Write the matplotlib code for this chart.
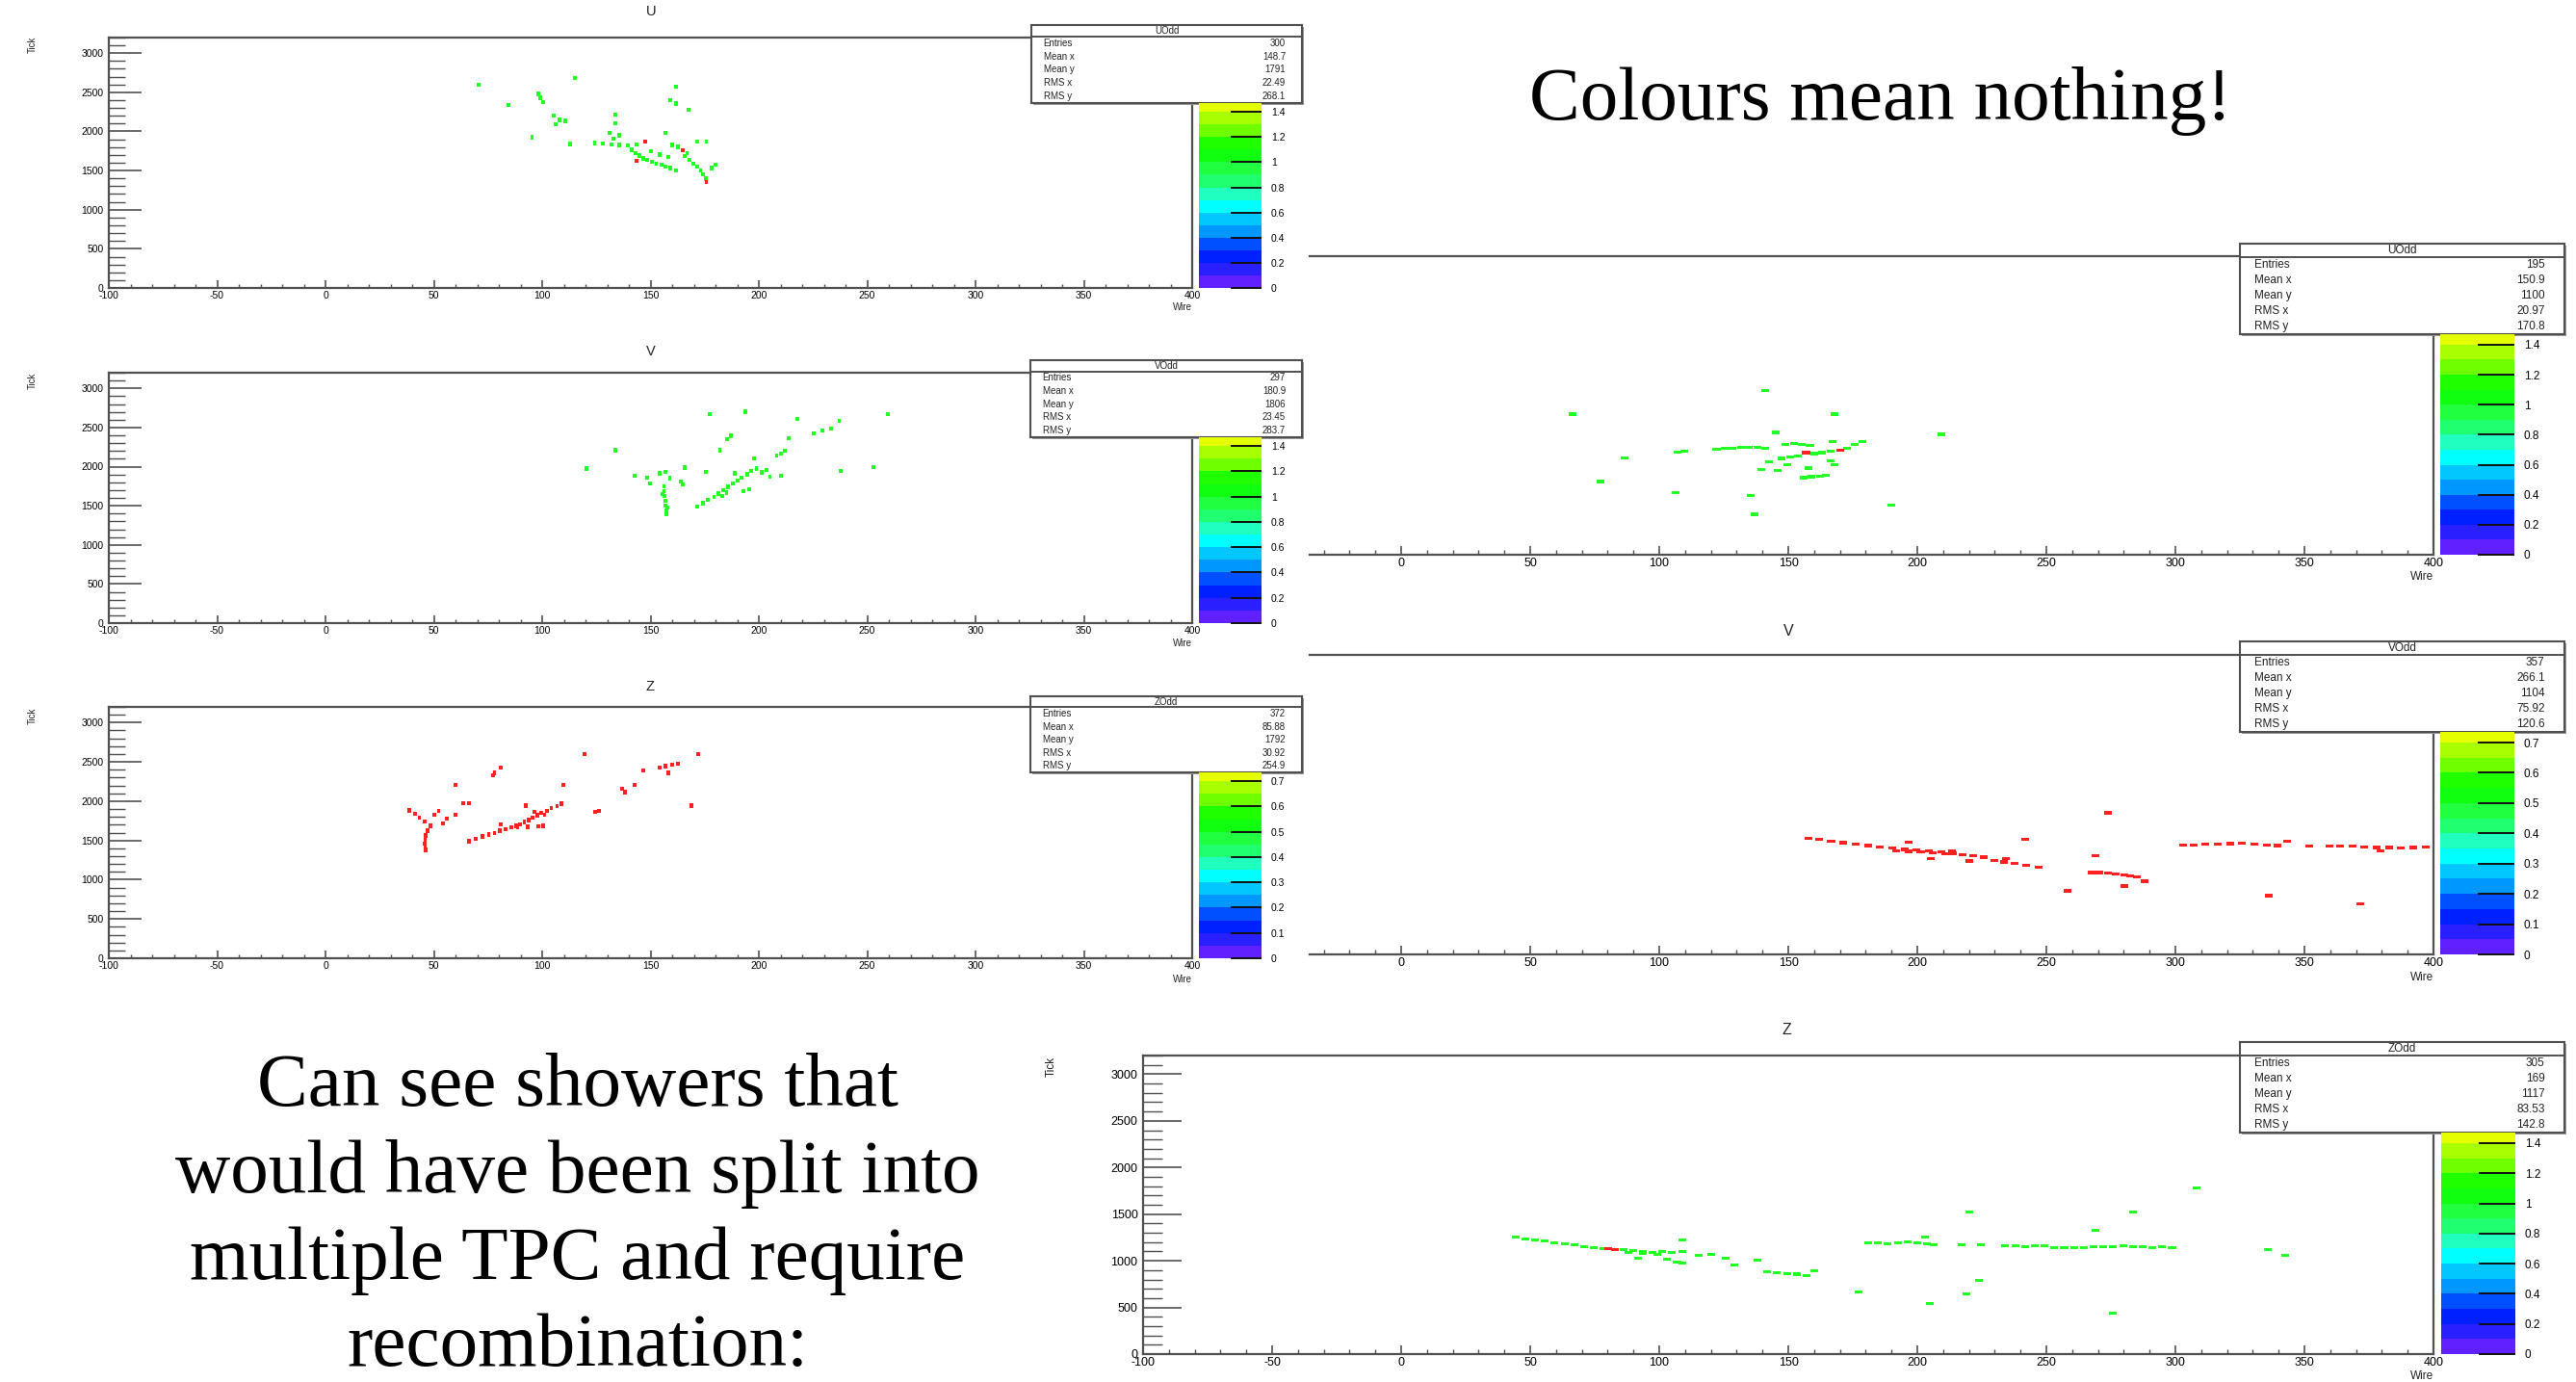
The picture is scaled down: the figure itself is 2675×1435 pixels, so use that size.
import numpy as np
import matplotlib
matplotlib.use("Agg")
import matplotlib.pyplot as plt
from matplotlib.colors import ListedColormap
from matplotlib.ticker import FixedLocator, MultipleLocator

W, H = 2675, 1435
PX = 72.0 / 100.0          # points per pixel at dpi=100
SANS = ['Liberation Sans', 'DejaVu Sans']
SERIF = ['Liberation Serif', 'DejaVu Serif']
FRAME = '#505050'
HIT_GREEN = '#22ff22'
HIT_RED = '#ff2020'

# ROOT-style colour palette bands, bottom to top
PALETTE = ['#6020ff', '#2a20ff', '#0020ff', '#0050ff', '#0098ff', '#00c8ff',
           '#00ffff', '#20ffc0', '#20ff70', '#20ff40', '#10ff10', '#20ff00',
           '#70ff00', '#a8ff00', '#e6ff00']

STAT_LABELS = ['Entries', 'Mean x', 'Mean y', 'RMS x', 'RMS y']

# ---------------- hit data: (wire, tick) ----------------
u_left_green = [(70.6, 2595), (115.0, 2685), (98.4, 2481), (99.1, 2432), (100.3, 2375),
                (84.5, 2338), (161.9, 2571), (159.2, 2399), (161.9, 2358), (167.7, 2276),
                (133.8, 2215), (105.3, 2203), (108.0, 2146), (110.7, 2133), (106.1, 2093),
                (133.8, 2105), (95.3, 1929), (131.1, 1982), (135.7, 1949), (133.0, 1909),
                (156.9, 1982), (113.0, 1839), (124.2, 1855), (128.0, 1843), (131.9, 1831),
                (135.7, 1827), (139.6, 1819), (143.4, 1835), (141.5, 1766), (143.1, 1721),
                (145.0, 1692), (146.5, 1655), (148.5, 1635), (150.8, 1614), (152.7, 1590),
                (155.0, 1573), (156.9, 1553), (159.2, 1533), (161.6, 1500), (160.0, 1827),
                (162.7, 1802), (166.9, 1725), (171.6, 1868), (175.8, 1868), (165.8, 1684),
                (168.1, 1635), (169.6, 1590), (171.6, 1549), (173.1, 1500), (174.3, 1451),
                (175.4, 1398), (178.1, 1533), (180.0, 1573), (158.1, 1672), (154.2, 1704),
                (150.4, 1745)]
u_left_red = [(147.7, 1868), (143.4, 1622), (165.0, 1761), (175.8, 1353)]

v_left_green = [(177.3, 2672), (193.9, 2701), (217.8, 2610), (237.1, 2582), (259.4, 2672),
                (225.5, 2426), (229.4, 2459), (233.2, 2487), (187.0, 2393), (185.4, 2352),
                (213.9, 2365), (212.0, 2201), (208.2, 2139), (210.1, 2168), (197.8, 2106),
                (182.0, 2209), (133.8, 2209), (120.3, 1975), (165.8, 1988), (175.4, 1934),
                (237.8, 1942), (252.8, 1992), (142.7, 1885), (148.5, 1861), (154.2, 1914),
                (156.9, 1934), (158.9, 1852), (163.9, 1811), (165.0, 1770), (149.6, 1783),
                (156.2, 1750), (156.2, 1688), (155.4, 1647), (156.5, 1627), (156.9, 1565),
                (156.9, 1504), (157.7, 1475), (157.3, 1442), (157.3, 1393),
                (171.6, 1492), (174.3, 1533), (176.6, 1574), (179.3, 1615), (181.2, 1656),
                (183.5, 1697), (185.8, 1742), (188.1, 1783), (190.1, 1820), (192.0, 1860),
                (194.7, 1901), (196.6, 1942), (198.9, 1975), (201.2, 1926), (203.5, 1955),
                (192.8, 1688), (195.4, 1709), (185.1, 1668), (183.1, 1627), (205.1, 1873),
                (210.1, 1885), (188.9, 1914)]
v_left_red = []

z_left_green = []
z_left_red = [(119.6, 2597), (172.0, 2597), (81.0, 2425), (78.0, 2363), (77.2, 2330),
              (59.9, 2207), (109.9, 2207), (146.5, 2392), (154.2, 2425), (156.9, 2445),
              (160.0, 2466), (162.7, 2478), (158.1, 2363), (136.9, 2158), (138.1, 2117),
              (142.7, 2207), (63.7, 1973), (66.4, 1973), (92.6, 1944), (168.9, 1944),
              (124.6, 1862), (126.1, 1878), (38.7, 1882), (41.4, 1837), (43.3, 1788),
              (45.6, 1739), (48.3, 1685), (50.2, 1829), (52.2, 1878), (56.0, 1780),
              (59.9, 1829), (54.1, 1718), (47.1, 1623), (46.4, 1562), (46.0, 1508),
              (45.6, 1459), (46.0, 1418), (46.4, 1377), (66.4, 1488), (69.5, 1521),
              (72.6, 1549), (75.3, 1574), (78.0, 1595), (80.3, 1623), (83.0, 1644),
              (85.7, 1665), (88.0, 1685), (89.9, 1706), (91.8, 1734), (93.8, 1759),
              (95.7, 1788), (97.6, 1821), (99.5, 1850), (102.2, 1878), (104.2, 1911),
              (106.9, 1940), (108.8, 1965), (88.7, 1665), (93.4, 1673), (98.4, 1677),
              (100.3, 1685), (81.0, 1706), (96.5, 1862), (101.1, 1829)]

u_right_green = [(141.1, 1758), (66.5, 1507), (167.9, 1507), (145.2, 1311), (209.5, 1290),
                 (86.6, 1036), (77.2, 785), (106.5, 664), (135.5, 637), (137.0, 434),
                 (190.0, 533), (107.1, 1101), (109.6, 1111), (122.2, 1129), (125.4, 1136),
                 (128.5, 1142), (131.7, 1149), (134.8, 1153), (138.0, 1149), (141.1, 1142),
                 (149.0, 1184), (152.1, 1191), (155.3, 1184), (158.4, 1170), (167.3, 1215),
                 (147.4, 1032), (150.6, 1050), (153.7, 1060), (160.0, 1084), (163.2, 1094),
                 (166.3, 1108), (172.6, 1136), (175.8, 1180), (178.9, 1215),
                 (142.7, 998), (149.6, 967), (157.8, 929), (167.9, 963), (139.5, 915),
                 (155.9, 826), (159.1, 836), (162.2, 843), (164.7, 853), (145.8, 905),
                 (166.3, 1008)]
u_right_red = [(156.9, 1094), (170.0, 1118)]

v_right_green = []
v_right_red = [(157.8, 1238), (161.9, 1228), (166.6, 1211), (171.3, 1194), (176.0, 1176),
               (180.8, 1163), (185.5, 1149), (190.2, 1135), (195.0, 1122), (199.7, 1115),
               (204.4, 1104), (209.2, 1094), (213.9, 1080), (217.7, 1067), (221.8, 1053),
               (225.9, 1039), (229.7, 1005), (233.5, 988), (237.6, 971), (242.3, 950),
               (247.0, 929), (191.8, 1108), (196.6, 1101), (201.3, 1098), (206.0, 1084),
               (210.8, 1074), (213.3, 1101), (196.6, 1201), (205.1, 1022), (220.2, 998),
               (234.4, 1022), (241.7, 1228), (273.9, 1513), (269.1, 1056), (258.1, 679),
               (267.5, 875), (270.7, 875), (273.9, 868), (277.0, 858), (280.2, 851),
               (282.4, 840), (284.9, 827), (280.2, 731), (288.1, 782),
               (302.9, 1170), (307.0, 1170), (311.7, 1176), (316.4, 1176), (321.2, 1183),
               (325.9, 1187), (330.6, 1176), (335.4, 1170), (339.5, 1163), (343.3, 1211),
               (351.8, 1159), (359.7, 1156), (363.8, 1159), (368.5, 1153), (373.2, 1149),
               (378.0, 1142), (382.7, 1142), (387.4, 1135), (392.2, 1142), (396.9, 1149),
               (379.5, 1108), (336.3, 628), (371.7, 542)]

z_right_green = [(44.3, 1254), (48.1, 1237), (51.9, 1220), (55.7, 1210), (59.5, 1196),
                 (63.3, 1182), (67.1, 1168), (70.9, 1154), (74.7, 1140), (78.5, 1134),
                 (86.1, 1116), (89.9, 1109), (93.6, 1099), (97.4, 1092), (101.2, 1099),
                 (105.0, 1092), (108.8, 1099), (88.0, 1092), (93.6, 1075), (99.4, 1071),
                 (108.8, 1220), (91.7, 1030), (103.1, 1013), (106.9, 988), (108.8, 971),
                 (115.3, 1058), (120.2, 1064), (125.9, 1030), (129.0, 954), (138.1, 1002),
                 (141.9, 885), (145.7, 874), (149.5, 864), (153.3, 857), (157.1, 840),
                 (160.1, 892), (181.0, 1196), (184.8, 1189), (188.6, 1185), (192.4, 1192),
                 (196.2, 1203), (200.0, 1196), (203.8, 1182), (206.4, 1175), (203.0, 1251),
                 (217.0, 1168), (224.6, 1168), (220.1, 1521), (234.1, 1161), (237.9, 1158),
                 (241.7, 1154), (245.5, 1161), (249.3, 1158), (253.1, 1140), (256.9, 1140),
                 (260.7, 1140), (264.5, 1140), (268.3, 1147), (272.1, 1154), (275.9, 1147),
                 (279.7, 1158), (283.5, 1151), (287.3, 1147), (291.1, 1144), (294.9, 1147),
                 (298.7, 1140), (269.1, 1324), (283.5, 1524), (308.2, 1783), (335.9, 1116),
                 (342.4, 1054), (223.9, 788), (219.0, 643), (177.2, 667), (204.9, 539),
                 (275.9, 435)]
z_right_red = [(80.4, 1127), (83.0, 1120)]

# ---------------- statistics boxes ----------------
u_left_stats = ['300', '148.7', '1791', '22.49', '268.1']
v_left_stats = ['297', '180.9', '1806', '23.45', '283.7']
z_left_stats = ['372', '85.88', '1792', '30.92', '254.9']
u_right_stats = ['195', '150.9', '1100', '20.97', '170.8']
v_right_stats = ['357', '266.1', '1104', '75.92', '120.6']
z_right_stats = ['305', '169', '1117', '83.53', '142.8']

# palette ranges (top of z axis) and labelled ticks
z_top_wide, z_ticks_wide = 1.47, [0, 0.2, 0.4, 0.6, 0.8, 1.0, 1.2, 1.4]
z_top_narrow, z_ticks_narrow = 0.735, [0, 0.1, 0.2, 0.3, 0.4, 0.5, 0.6, 0.7]

x_major = list(range(-100, 401, 50))
x_minor = list(range(-100, 401, 10))

fig = plt.figure(figsize=(W / 100, H / 100), dpi=100)
fig.patch.set_facecolor('white')


def fbox(x0, y0, x1, y1):
    """pixel box (top-left origin) -> figure fraction rect"""
    return [x0 / W, 1 - y1 / H, (x1 - x0) / W, (y1 - y0) / H]


def ftext(x, y, s, **kw):
    kw.setdefault('family', SANS)
    fig.text(x / W, 1 - y / H, s, **kw)


def draw_hits(ax, hits, color, w, h):
    if not hits:
        return
    xs = np.array([p[0] for p in hits])
    ys = np.array([p[1] for p in hits])
    ax.bar(xs, np.full(len(xs), h), width=w, bottom=ys - h / 2, color=color,
           linewidth=0, zorder=3)


def draw_frame(frame, full_left, green, red, hit_w, hit_h, fs):
    x0, y0, x1, y1 = frame
    wpp = 500.0 / (x1 - full_left)
    xmin = -100 + (x0 - full_left) * wpp
    show_y = abs(x0 - full_left) < 1
    ax = fig.add_axes(fbox(x0, y0, x1, y1))
    ax.set_xlim(xmin, 400)
    ax.set_ylim(0, 3200)
    draw_hits(ax, green, HIT_GREEN, hit_w, hit_h)
    draw_hits(ax, red, HIT_RED, hit_w, hit_h)

    xl = 0.03 * (y1 - y0)
    yl = 0.03 * (x1 - full_left)
    majors = [v for v in x_major if v >= xmin - 1e-6]
    ax.xaxis.set_major_locator(FixedLocator(majors))
    ax.xaxis.set_minor_locator(FixedLocator([v for v in x_minor if v >= xmin]))
    ax.set_xticklabels([str(v) for v in majors], family=SANS)
    ax.tick_params(axis='x', which='major', direction='in', length=xl * PX, width=1.2,
                   color=FRAME, labelsize=fs, pad=2, top=False)
    ax.tick_params(axis='x', which='minor', direction='in', length=xl * 0.5 * PX,
                   width=1.0, color=FRAME, top=False)
    if show_y:
        ax.yaxis.set_major_locator(MultipleLocator(500))
        ax.yaxis.set_minor_locator(MultipleLocator(100))
        ax.set_yticks(ax.get_yticks())
        ax.set_yticklabels([f'{int(v)}' for v in ax.get_yticks()], family=SANS)
        ax.set_ylim(0, 3200)
        ax.tick_params(axis='y', which='major', direction='in', length=yl * PX, width=1.2,
                       color=FRAME, labelsize=fs, pad=4, right=False)
        ax.tick_params(axis='y', which='minor', direction='in', length=yl * 0.5 * PX,
                       width=1.0, color=FRAME, right=False)
    else:
        ax.tick_params(axis='y', which='both', left=False, labelleft=False, right=False)
        ax.spines['left'].set_visible(False)
    for name, sp in ax.spines.items():
        sp.set_color(FRAME)
        sp.set_linewidth(1.6)
    return ax


def draw_stats(sb, name, values, fs):
    sx0, sy0, sx1, sy1 = sb
    # drop shadow
    sh = fig.add_axes(fbox(sx0 + 2, sy0 + 2, sx1 + 2, sy1 + 2))
    sh.set_facecolor('#9a9a9a')
    sh.set_xticks([]); sh.set_yticks([])
    for sp in sh.spines.values():
        sp.set_visible(False)
    sa = fig.add_axes(fbox(sx0, sy0, sx1, sy1))
    sa.set_xlim(0, 1); sa.set_ylim(0, 1)
    sa.set_xticks([]); sa.set_yticks([])
    sa.set_facecolor('white')
    for sp in sa.spines.values():
        sp.set_color(FRAME)
        sp.set_linewidth(1.5)
    hh = 0.145
    sa.axhline(1 - hh, color=FRAME, lw=1.4)
    sa.text(0.5, 1 - hh / 2, name, ha='center', va='center', fontsize=fs,
            family=SANS, color='#222222')
    step = (1 - hh) / 5
    for i, (lab, val) in enumerate(zip(STAT_LABELS, values)):
        yy = 1 - hh - (i + 0.5) * step
        sa.text(0.045, yy, lab, ha='left', va='center', fontsize=fs, family=SANS,
                color='#222222')
        sa.text(0.94, yy, val, ha='right', va='center', fontsize=fs, family=SANS,
                color='#222222')


def draw_palette(pb, ztop, zticks, fs):
    px0, py0, px1, py1 = pb
    pa = fig.add_axes(fbox(px0, py0, px1, py1))
    step = zticks[-1] / 14.0
    levels = np.append(np.arange(15) * step, ztop)
    vals = np.arange(len(PALETTE)).reshape(-1, 1)
    pa.pcolormesh([0, 1], levels, vals, cmap=ListedColormap(PALETTE),
                  vmin=-0.5, vmax=len(PALETTE) - 0.5, shading='flat')
    pa.set_xlim(0, 1)
    pa.set_ylim(0, ztop)
    pa.set_xticks([])
    pa.yaxis.tick_right()
    pa.set_yticks(zticks)
    pa.set_yticklabels([f'{v:g}' for v in zticks], family=SANS)
    pa.tick_params(axis='y', direction='in', length=0.5 * (px1 - px0) * PX, width=1.4,
                   color='#111111', labelsize=fs, pad=7, left=False, right=True)
    for sp in pa.spines.values():
        sp.set_visible(False)


def panel(frame, full_left, stats_box, pal_box, name, values, ztop, zticks,
          green, red, hit_w, hit_h, fs, title=None, title_xy=None, tick_xy=None,
          wire_xy=None):
    draw_frame(frame, full_left, green, red, hit_w, hit_h, fs['tick'])
    draw_stats(stats_box, name, values, fs['stats'])
    draw_palette(pal_box, ztop, zticks, fs['pal'])
    if title:
        ftext(title_xy[0], title_xy[1], title, ha='center', va='center',
              fontsize=fs['title'], color='#222222')
    if tick_xy:
        ftext(tick_xy[0], tick_xy[1], 'Tick', rotation=90, ha='center', va='top',
              fontsize=fs['label'], color='#222222')
    ftext(wire_xy[0], wire_xy[1], 'Wire', ha='right', va='center',
          fontsize=fs['label'], color='#222222')


FS_L = dict(tick=7.5, stats=7.0, pal=7.5, title=10.5, label=7.0)
FS_R = dict(tick=9.0, stats=8.5, pal=8.5, title=11.5, label=8.5)

# left column: three full views
panel((113, 39, 1238, 299), 113, (1071, 26, 1352, 107), (1245, 107, 1310, 299),
      'UOdd', u_left_stats, z_top_wide, z_ticks_wide, u_left_green, u_left_red,
      1.7, 55, FS_L, title='U', title_xy=(676, 12), tick_xy=(34, 38), wire_xy=(1238, 319))
panel((113, 387, 1238, 647), 113, (1070, 374, 1352, 454), (1245, 454, 1310, 647),
      'VOdd', v_left_stats, z_top_wide, z_ticks_wide, v_left_green, v_left_red,
      1.7, 55, FS_L, title='V', title_xy=(676, 365), tick_xy=(34, 387), wire_xy=(1238, 668))
panel((113, 734, 1238, 995), 113, (1070, 723, 1352, 802), (1245, 802, 1310, 995),
      'ZOdd', z_left_stats, z_top_narrow, z_ticks_narrow, z_left_green, z_left_red,
      1.7, 55, FS_L, title='Z', title_xy=(675, 713), tick_xy=(34, 735), wire_xy=(1238, 1017))

# right column: views from the odd TPC
panel((1360, 266, 2527, 576), 1187, (2326, 253, 2663, 347), (2534, 347, 2611, 576),
      'UOdd', u_right_stats, z_top_wide, z_ticks_wide, u_right_green, u_right_red,
      3.0, 32, FS_R, wire_xy=(2527, 599))
panel((1360, 680, 2527, 991), 1187, (2326, 666, 2663, 760), (2534, 760, 2611, 991),
      'VOdd', v_right_stats, z_top_narrow, z_ticks_narrow, v_right_green, v_right_red,
      3.0, 32, FS_R, title='V', title_xy=(1857, 655), wire_xy=(2527, 1015))
panel((1187, 1096, 2527, 1406), 1187, (2326, 1082, 2663, 1176), (2535, 1176, 2612, 1406),
      'ZOdd', z_right_stats, z_top_wide, z_ticks_wide, z_right_green, z_right_red,
      3.0, 32, FS_R, title='Z', title_xy=(1855, 1070), tick_xy=(1092, 1097),
      wire_xy=(2527, 1429))

# slide text
ftext(1953, 124, 'Colours mean nothing!', ha='center', va='baseline', fontsize=57,
      family=SERIF, color='black')
note_lines = ['Can see showers that', 'would have been split into',
              'multiple TPC and require', 'recombination:']
for i, line in enumerate(note_lines):
    ftext(600, 1148 + i * 90, line, ha='center', va='baseline', fontsize=57,
          family=SERIF, color='black')

fig.savefig('out.png', dpi=100, facecolor='white')
